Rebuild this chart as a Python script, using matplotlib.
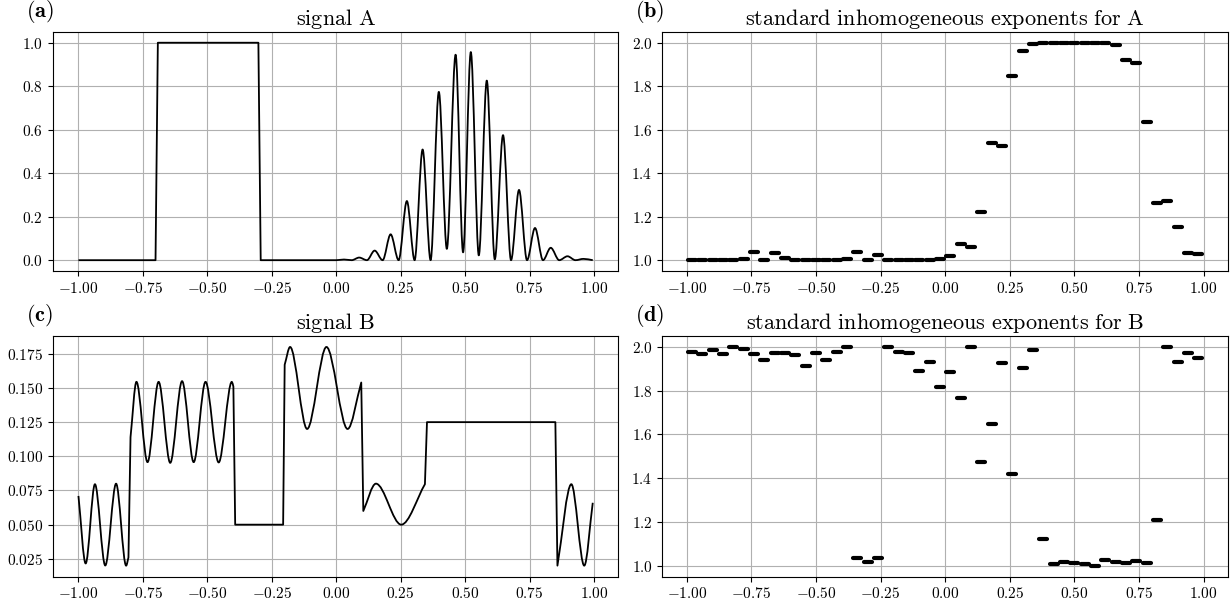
import matplotlib
matplotlib.use("Agg")
import matplotlib.pyplot as plt
from matplotlib.path import Path
from matplotlib.patches import PathPatch
from matplotlib.ticker import FuncFormatter, FixedLocator
import numpy as np

plt.rcParams['mathtext.fontset'] = 'cm'
plt.rcParams['font.family'] = 'serif'

# ---- signal A: pieces of (x, y) extrema ----
a_piece1_x = [-1.0, -0.701]
a_piece1_y = [0.0, 0.0]
a_piece2_x = [-0.692, -0.302]
a_piece2_y = [1.0, 1.0]
a_piece3_x = [-0.293, 0.0, 0.03, 0.06, 0.089, 0.119, 0.149, 0.18, 0.211, 0.242,
              0.274, 0.304, 0.335, 0.366, 0.398, 0.429, 0.463, 0.492, 0.522,
              0.553, 0.584, 0.615, 0.647, 0.678, 0.709, 0.740, 0.771, 0.802,
              0.832, 0.865, 0.897, 0.928, 0.959, 0.995]
a_piece3_y = [0.0, 0.0, 0.003, 0.0, 0.012, 0.0, 0.044, 0.0, 0.119, 0.0,
              0.272, 0.0, 0.509, 0.0, 0.774, 0.052, 0.945, 0.036, 0.957,
              0.022, 0.826, 0.004, 0.575, 0.0, 0.323, 0.0, 0.148, 0.0,
              0.057, 0.0, 0.018, 0.0, 0.006, 0.0]

# ---- signal B ----
b_piece1_x = [-1.0, -0.972, -0.936, -0.896, -0.854, -0.815, -0.806]
b_piece1_y = [0.071, 0.0216, 0.0796, 0.0201, 0.080, 0.020, 0.026]
b_piece2_x = [-0.798, -0.775, -0.732, -0.689, -0.644, -0.598, -0.553, -0.507,
              -0.456, -0.405, -0.399]
b_piece2_y = [0.114, 0.1545, 0.0957, 0.1545, 0.0952, 0.155, 0.0957, 0.1545,
              0.0955, 0.1545, 0.151]
b_piece3_x = [-0.392, -0.206]
b_piece3_y = [0.05, 0.05]
b_piece4_x = [-0.200, -0.179, -0.113, -0.038, 0.044, 0.097]
b_piece4_y = [0.167, 0.180, 0.120, 0.180, 0.120, 0.154]
b_piece5_x = [0.105, 0.154, 0.252, 0.344]
b_piece5_y = [0.060, 0.080, 0.050, 0.0796]
b_piece6_x = [0.352, 0.850]
b_piece6_y = [0.125, 0.125]
b_piece7_x = [0.858, 0.912, 0.962, 0.995]
b_piece7_y = [0.020, 0.0796, 0.020, 0.066]

# ---- exponents: 50 blocks of width 0.04 on [-1, 1] ----
block_edges = np.linspace(-1.0, 1.0, 51)
exp_A = [1.0, 1.0, 1.0, 1.0, 1.0, 1.006, 1.038, 1.0, 1.035, 1.008,
         1.0, 1.0, 1.0, 1.0, 1.0, 1.004, 1.036, 1.0, 1.025, 1.0,
         1.0, 1.0, 1.0, 1.0, 1.005, 1.021, 1.074, 1.061, 1.22, 1.538,
         1.526, 1.847, 1.962, 1.992, 1.998, 2.0, 2.0, 2.0, 2.0, 2.0,
         2.0, 1.99, 1.919, 1.908, 1.637, 1.262, 1.273, 1.152, 1.035, 1.029]
exp_B = [1.976, 1.970, 1.985, 1.966, 2.0, 1.992, 1.966, 1.942, 1.974, 1.974,
         1.963, 1.915, 1.974, 1.939, 1.977, 2.0, 1.036, 1.015, 1.036, 2.0,
         1.979, 1.973, 1.889, 1.930, 1.819, 1.887, 1.767, 2.0, 1.472, 1.646,
         1.925, 1.420, 1.905, 1.985, 1.122, 1.009, 1.016, 1.012, 1.009, 1.0,
         1.024, 1.019, 1.013, 1.020, 1.012, 1.209, 2.0, 1.931, 1.973, 1.951]

x_ticks = [-1.0, -0.75, -0.5, -0.25, 0.0, 0.25, 0.5, 0.75, 1.0]
a_yticks = [0.0, 0.2, 0.4, 0.6, 0.8, 1.0]
b_yticks = [0.025, 0.05, 0.075, 0.1, 0.125, 0.15, 0.175]
exp_yticks = [1.0, 1.2, 1.4, 1.6, 1.8, 2.0]


def smooth_path(pieces):
    # cubic Bezier through extrema, straight jumps between pieces
    verts, codes = [], []
    for k, (px, py) in enumerate(pieces):
        verts.append((px[0], py[0]))
        codes.append(Path.MOVETO if k == 0 else Path.LINETO)
        n = len(px)
        for i in range(n - 1):
            x0, y0, x1, y1 = px[i], py[i], px[i + 1], py[i + 1]
            dx, dy = x1 - x0, y1 - y0
            c1y = y0 + dy / 3 if i == 0 else y0
            c2y = y1 - dy / 3 if i == n - 2 else y1
            verts += [(x0 + dx / 3, c1y), (x0 + 2 * dx / 3, c2y), (x1, y1)]
            codes += [Path.CURVE4] * 3
    return Path(verts, codes)


def fmt(dec):
    return FuncFormatter(lambda v, p: r'$%.*f$' % (dec, v))


def style(ax, yticks, ydec, title, label):
    ax.xaxis.set_major_locator(FixedLocator(x_ticks))
    ax.yaxis.set_major_locator(FixedLocator(yticks))
    ax.xaxis.set_major_formatter(fmt(2))
    ax.yaxis.set_major_formatter(fmt(ydec))
    ax.tick_params(labelsize=11)
    ax.grid(True, color='#b0b0b0', lw=0.8)
    ax.set_axisbelow(True)
    ax.set_title(title, fontsize=16, pad=5)
    ax.annotate(label, xy=(0, 1), xycoords='axes fraction', xytext=(-27, 7),
                textcoords='offset pixels', ha='left', va='bottom', fontsize=16)


fig = plt.figure(figsize=(12.32, 6.01), dpi=100)
ax_a = fig.add_axes([0.0428, 0.549, 0.4592, 0.398])
ax_b = fig.add_axes([0.5376, 0.549, 0.4592, 0.398])
ax_c = fig.add_axes([0.0428, 0.0406, 0.4592, 0.4003])
ax_d = fig.add_axes([0.5376, 0.0406, 0.4592, 0.4003])

pieces_A = [(a_piece1_x, a_piece1_y), (a_piece2_x, a_piece2_y), (a_piece3_x, a_piece3_y)]
pieces_B = [(b_piece1_x, b_piece1_y), (b_piece2_x, b_piece2_y), (b_piece3_x, b_piece3_y),
            (b_piece4_x, b_piece4_y), (b_piece5_x, b_piece5_y), (b_piece6_x, b_piece6_y),
            (b_piece7_x, b_piece7_y)]

for ax, pcs in [(ax_a, pieces_A), (ax_c, pieces_B)]:
    ax.add_patch(PathPatch(smooth_path(pcs), fill=False, ec='black', lw=1.3,
                           joinstyle='round'))
    ax.autoscale_view()

inset = 0.0045
for ax, vals in [(ax_b, exp_A), (ax_d, exp_B)]:
    ax.hlines(vals, block_edges[:-1] + inset, block_edges[1:] - inset,
              colors='black', lw=3.0, capstyle='round')

style(ax_a, a_yticks, 1, r'$\mathrm{signal\ A}$', r'$(\mathbf{a})$')
style(ax_b, exp_yticks, 1, r'$\mathrm{standard\ inhomogeneous\ exponents\ for\ A}$', r'$(\mathbf{b})$')
style(ax_c, b_yticks, 3, r'$\mathrm{signal\ B}$', r'$(\mathbf{c})$')
style(ax_d, exp_yticks, 1, r'$\mathrm{standard\ inhomogeneous\ exponents\ for\ B}$', r'$(\mathbf{d})$')

fig.savefig('out.png', dpi=100)
